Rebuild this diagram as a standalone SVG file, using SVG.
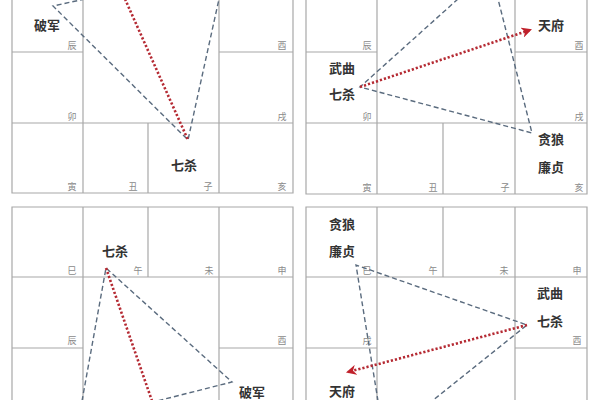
<svg xmlns="http://www.w3.org/2000/svg" width="600" height="400" viewBox="0 0 600 400">
<defs>
<style>
.g{stroke:#a8a8a8;stroke-width:1.2;fill:none}
.d{stroke:#5a6b7e;stroke-width:1.4;stroke-dasharray:5 3;fill:none}
.r{stroke:#b52a33;stroke-width:2.6;stroke-dasharray:2.2 2;fill:none}
.s{font-family:"Noto Sans CJK SC","Noto Sans CJK JP",sans-serif;font-size:13px;font-weight:bold;fill:#333;text-anchor:middle}
.b{font-family:"Noto Sans CJK SC","Noto Sans CJK JP",sans-serif;font-size:9px;fill:#8a8a8a;text-anchor:middle}
</style>
<marker id="ah" viewBox="0 0 10 10" refX="8" refY="5" markerWidth="4" markerHeight="4" orient="auto" markerUnits="strokeWidth">
<path d="M0,0 L10,5 L0,10 L3,5 Z" fill="#c0202a"/>
</marker>
</defs>
<rect width="600" height="400" fill="#fff"/>

<g id="grid-tl">
<path class="g" d="M12,0 V193 H293 V0 M83,0 V193 M219,0 V193 M148,123 V193 M12,52 H83 M219,52 H293 M12,123 H293"/>
</g>
<g id="grid-tr">
<path class="g" d="M306,0 V194 H587 V0 M377,0 V194 M515,0 V194 M443,123 V194 M306,52 H377 M515,52 H587 M306,123 H587"/>
</g>
<g id="grid-bl">
<path class="g" d="M12,400 V207 H293 V400 M83,207 V400 M219,207 V400 M148,207 V277 M12,277 H293 M12,348 H83 M219,348 H293"/>
</g>
<g id="grid-br">
<path class="g" d="M306,400 V207 H587 V400 M377,207 V400 M515,207 V400 M443,207 V277 M306,277 H587 M306,348 H377 M515,348 H587"/>
</g>

<g id="branches">
<text class="b" x="72" y="49">辰</text><text class="b" x="282" y="49">酉</text>
<text class="b" x="72" y="120">卯</text><text class="b" x="282" y="120">戌</text>
<text class="b" x="72" y="190">寅</text><text class="b" x="133" y="190">丑</text><text class="b" x="208" y="190">子</text><text class="b" x="282" y="190">亥</text>

<text class="b" x="367" y="49">辰</text><text class="b" x="579" y="49">酉</text>
<text class="b" x="367" y="120">卯</text><text class="b" x="579" y="120">戌</text>
<text class="b" x="367" y="191">寅</text><text class="b" x="433" y="191">丑</text><text class="b" x="505" y="191">子</text><text class="b" x="579" y="191">亥</text>

<text class="b" x="72" y="274">巳</text><text class="b" x="138" y="274">午</text><text class="b" x="209" y="274">未</text><text class="b" x="282" y="274">申</text>
<text class="b" x="72" y="344">辰</text><text class="b" x="282" y="344">酉</text>

<text class="b" x="367" y="274">巳</text><text class="b" x="433" y="274">午</text><text class="b" x="504" y="274">未</text><text class="b" x="577" y="274">申</text>
<text class="b" x="367" y="344">戌</text><text class="b" x="577" y="344">酉</text>
</g>

<g id="connectors">
<path class="d" d="M85,-1 L53,6 L188,140 L219,-1"/>
<path class="r" d="M125,-1 L188,140"/>

<path class="d" d="M458,-1 L360,87 L532,133 L498,-1"/>
<path class="r" d="M360,87 L530,30" marker-end="url(#ah)"/>

<path class="d" d="M82,401 L106,268 L232,382 L157,401"/>
<path class="r" d="M106,268 L152,401"/>

<path class="d" d="M378,401 L356,265 L527,325 L432,401"/>
<path class="r" d="M527,325 L348,372" marker-end="url(#ah)"/>
</g>

<g id="stars">
<text class="s" x="47" y="30">破军</text>
<text class="s" x="184" y="170">七杀</text>
<text class="s" x="551" y="30">天府</text>
<text class="s" x="342" y="73">武曲</text>
<text class="s" x="342" y="99">七杀</text>
<text class="s" x="551" y="144">贪狼</text>
<text class="s" x="551" y="172">廉贞</text>
<text class="s" x="115" y="256">七杀</text>
<text class="s" x="252" y="397">破军</text>
<text class="s" x="342" y="229">贪狼</text>
<text class="s" x="342" y="256">廉贞</text>
<text class="s" x="550" y="298">武曲</text>
<text class="s" x="550" y="326">七杀</text>
<text class="s" x="342" y="396">天府</text>
</g>
</svg>
